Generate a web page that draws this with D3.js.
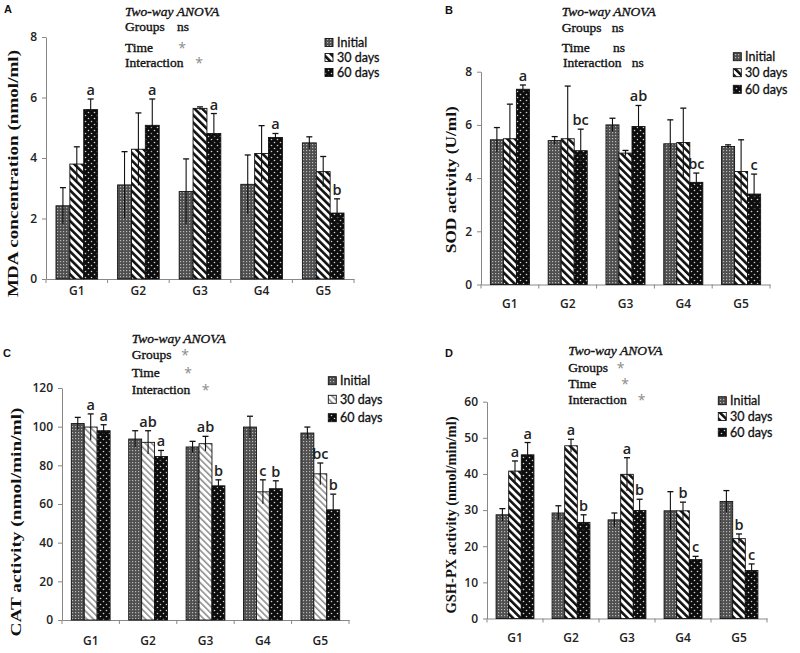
<!DOCTYPE html>
<html><head><meta charset="utf-8">
<script src="https://cdnjs.cloudflare.com/ajax/libs/d3/7.8.5/d3.min.js"></script>
<style>body{margin:0;background:#fff}svg{display:block}</style>
</head><body><svg id="c" width="800" height="653"></svg>
<script>
// ---------- data ----------
const groups = ["G1","G2","G3","G4","G5"];
const seriesNames = ["Initial","30 days","60 days"];

// Panel A: MDA concentration (nmol/ml)
const mdaMean = [[2.42,3.80,5.60],[3.11,4.29,5.08],[2.89,5.64,4.81],[3.13,4.15,4.68],[4.50,3.55,2.18]];
const mdaErr  = [[0.60,0.57,0.35],[1.10,1.20,0.87],[1.08,0.05,0.66],[0.97,0.92,0.13],[0.20,0.50,0.47]];
const mdaLetters = [["","","a"],["","","a"],["","","a"],["","","a"],["","","b"]];
const mdaTicks = [0,2,4,6,8];
const mdaAnova = [["Groups","ns"],["Time","*"],["Interaction","*"]];

// Panel B: SOD activity (U/ml)
const sodMean = [[5.44,5.48,7.34],[5.41,5.48,5.03],[6.00,4.94,5.94],[5.29,5.34,3.84],[5.19,4.25,3.40]];
const sodErr  = [[0.46,1.30,0.16],[0.15,1.98,0.81],[0.25,0.10,0.79],[0.90,1.29,0.35],[0.06,1.19,0.75]];
const sodLetters = [["","","a"],["","","bc"],["","","ab"],["","","bc"],["","","c"]];
const sodTicks = [0,2,4,6,8];
const sodAnova = [["Groups","ns"],["Time","ns"],["Interaction","ns"]];

// Panel C: CAT activity (nmol/min/ml)
const catMean = [[101.6,99.8,97.9],[93.6,91.9,84.6],[89.5,91.2,69.4],[99.8,66.3,67.9],[96.7,75.6,57.0]];
const catErr  = [[3.2,6.8,3.1],[4.3,6.0,3.1],[2.9,3.8,3.1],[5.6,6.2,4.1],[3.1,5.6,8.1]];
const catLetters = [["","a","a"],["","ab","a"],["","ab","b"],["","c","b"],["","bc","b"]];
const catTicks = [0,20,40,60,80,100,120];
const catAnova = [["Groups","*"],["Time","*"],["Interaction","*"]];

// Panel D: GSH-PX activity (nmol/min/ml)
const gshMean = [[28.7,40.8,45.3],[29.2,47.8,26.6],[27.3,39.9,29.9],[29.8,29.8,16.3],[32.4,22.1,13.3]];
const gshErr  = [[1.7,2.8,3.4],[2.0,1.8,2.1],[1.9,4.6,3.1],[5.3,2.4,0.9],[3.0,1.3,1.8]];
const gshLetters = [["","a","a"],["","a","b"],["","a","b"],["","b","c"],["","b","c"]];
const gshTicks = [0,10,20,30,40,50,60];
const gshAnova = [["Groups","*"],["Time","*"],["Interaction","*"]];

// ---------- layout ----------
const panels = [
  {id:"A", mean:mdaMean, err:mdaErr, letters:mdaLetters, ticks:mdaTicks, anova:mdaAnova,
   ylabel:"MDA concentration  (nmol/ml)", x0:46, x1:354, yTop:37, y0:279, labOff:16,
   tag:[4,13], ylab:[12,173.5,247], title:[125,16], rows:[[125,30.7],[125,51.7],[125,67]], marks:[177,182,199],
   leg:{sx:325, tx:337, ys:[42.5,57.5,72.5]}, stripe:"dark"},
  {id:"B", mean:sodMean, err:sodErr, letters:sodLetters, ticks:sodTicks, anova:sodAnova,
   ylabel:"SOD activity (U/ml)", x0:481, x1:770, yTop:71.7, y0:284.5, labOff:24,
   tag:[445,14], ylab:[450,179.7,147], title:[561.7,16], rows:[[561.7,31.7],[561.7,51.7],[563,66.7]], marks:[611.7,613,631.7],
   leg:{sx:733.3, tx:745, ys:[56.7,72.7,89.3]}, stripe:"dark"},
  {id:"C", mean:catMean, err:catErr, letters:catLetters, ticks:catTicks, anova:catAnova,
   ylabel:"CAT activity (nmol/min/ml)", x0:62, x1:349, yTop:388, y0:620, labOff:25,
   tag:[3,357], ylab:[15,522,229], title:[131.7,343.3], rows:[[131.7,359.3],[131.7,377.3],[131.7,394]], marks:[185,188,205.7],
   leg:{sx:328.3, tx:340, ys:[380.7,399.3,417.7]}, stripe:"light"},
  {id:"D", mean:gshMean, err:gshErr, letters:gshLetters, ticks:gshTicks, anova:gshAnova,
   ylabel:"GSH-PX activity (nmol/min/ml)", x0:487, x1:767, yTop:401.7, y0:618.5, labOff:24,
   tag:[445,357], ylab:[450,515,197], title:[568.3,355], rows:[[568.3,371.7],[568.3,387.7],[568.3,404.3]], marks:[620.7,625,641.7],
   leg:{sx:718.3, tx:730, ys:[400.7,416.5,432.3]}, stripe:"dark"}
];

const svg = d3.select("#c");
const defs = svg.append("defs");
const SANS = "'Open Sans', Lato, sans-serif";
const LEG = "Lato, 'Open Sans', sans-serif";
const SERIF = "'Liberation Serif', 'Times New Roman', serif";

// patterns
const pInit = defs.append("pattern").attr("id","pInit").attr("patternUnits","userSpaceOnUse").attr("width",3).attr("height",3);
pInit.append("rect").attr("width",3).attr("height",3).attr("fill","#4f4f4f");
pInit.append("rect").attr("width",1.2).attr("height",1.2).attr("fill","#b8b8b8");

function stripe(id, color, w, gap){
  const p = defs.append("pattern").attr("id",id).attr("patternUnits","userSpaceOnUse")
    .attr("width",gap).attr("height",10).attr("patternTransform","rotate(-45)");
  p.append("rect").attr("width",gap).attr("height",10).attr("fill","#fff");
  p.append("rect").attr("x",0).attr("width",w).attr("height",10).attr("fill",color);
}
stripe("pStripe_dark","#111",2.6,5.4);
stripe("pStripe_light","#8f8f8f",1.6,4.6);

const pDot = defs.append("pattern").attr("id","pDot").attr("patternUnits","userSpaceOnUse").attr("width",6).attr("height",6);
pDot.append("rect").attr("width",6).attr("height",6).attr("fill","#0d0d0d");
pDot.append("circle").attr("cx",1.5).attr("cy",1.5).attr("r",0.8).attr("fill","#d0d0d0");
pDot.append("circle").attr("cx",4.5).attr("cy",4.5).attr("r",0.8).attr("fill","#d0d0d0");

function fills(p){ return ["url(#pInit)", "url(#pStripe_"+p.stripe+")", "url(#pDot)"]; }

panels.forEach(p => {
  const g = svg.append("g");
  const x = d3.scaleBand().domain(groups).range([p.x0,p.x1]).padding(0);
  const xs = d3.scaleBand().domain(seriesNames).range([0,x.bandwidth()]).paddingInner(0).paddingOuter(0.72);
  const y = d3.scaleLinear().domain([p.ticks[0], p.ticks[p.ticks.length-1]]).range([p.y0,p.yTop]);
  const f = fills(p);

  // y axis
  const ya = g.append("g").attr("transform",`translate(${p.x0},0)`)
    .call(d3.axisLeft(y).tickValues(p.ticks).tickSize(4).tickSizeOuter(0).tickPadding(5).tickFormat(d3.format("d")));
  ya.select(".domain").attr("stroke","#888");
  ya.selectAll(".tick line").attr("stroke","#888");
  ya.selectAll(".tick text").attr("font-family",SANS).attr("font-size",12).attr("font-weight",600).attr("fill","#222");

  // x axis
  const xa = g.append("g").attr("transform",`translate(0,${p.y0})`)
    .call(d3.axisBottom(x).tickSize(0).tickSizeOuter(0).tickPadding(p.labOff-9));
  xa.select(".domain").attr("stroke","#888");
  xa.selectAll(".tick text").attr("font-family",SANS).attr("font-size",12).attr("font-weight",600).attr("fill","#222");
  const bounds = groups.map(d => x(d)).concat([p.x1]);
  g.selectAll(".xb").data(bounds).enter().append("line")
    .attr("x1",d=>d).attr("x2",d=>d).attr("y1",p.y0).attr("y2",p.y0+4).attr("stroke","#888");

  // bars
  const rows = [];
  groups.forEach((gr,i) => seriesNames.forEach((s,j) => rows.push({gr, s, j, v:p.mean[i][j], e:p.err[i][j], l:p.letters[i][j]})));
  g.selectAll(".bar").data(rows).enter().append("rect")
    .attr("x",d=>x(d.gr)+xs(d.s)).attr("width",xs.bandwidth())
    .attr("y",d=>y(d.v)).attr("height",d=>p.y0-y(d.v))
    .attr("fill",d=>f[d.j]).attr("stroke","#111").attr("stroke-width",0.9);

  // error bars
  const cx = d => x(d.gr)+xs(d.s)+xs.bandwidth()/2;
  const eb = g.selectAll(".eb").data(rows).enter().append("g");
  eb.append("line").attr("x1",cx).attr("x2",cx)
    .attr("y1",d=>y(d.v-d.e)).attr("y2",d=>y(d.v+d.e)).attr("stroke","#111").attr("stroke-width",1.1);
  eb.append("line").attr("x1",d=>cx(d)-3).attr("x2",d=>cx(d)+3)
    .attr("y1",d=>y(d.v+d.e)).attr("y2",d=>y(d.v+d.e)).attr("stroke","#111").attr("stroke-width",1.3);

  // letters
  g.selectAll(".lt").data(rows.filter(d=>d.l)).enter().append("text")
    .attr("x",cx).attr("y",d=>y(d.v+d.e)-4)
    .attr("text-anchor","middle").attr("font-family",SANS).attr("font-size",14.5).attr("font-weight",600)
    .attr("fill","#222").text(d=>d.l);

  // y label
  g.append("text").attr("transform",`translate(${p.ylab[0]},${p.ylab[1]}) rotate(-90)`)
    .attr("text-anchor","middle").attr("dominant-baseline","central")
    .attr("font-family",SERIF).attr("font-weight","bold").attr("font-size",15.5)
    .attr("textLength",p.ylab[2]).attr("lengthAdjust","spacingAndGlyphs").attr("fill","#111").text(p.ylabel);

  // panel tag
  g.append("text").attr("x",p.tag[0]).attr("y",p.tag[1]).attr("font-family","'Liberation Sans', Arial, sans-serif")
    .attr("font-weight","bold").attr("font-size",11).attr("fill","#111").text(p.id);

  // ANOVA annotation
  const heavy = sel => sel.attr("stroke","#111").attr("stroke-width",0.35);
  heavy(g.append("text").attr("x",p.title[0]).attr("y",p.title[1]).attr("font-family",SERIF).attr("font-style","italic")
    .attr("font-size",13.5).attr("fill","#111").text("Two-way ANOVA"));
  p.anova.forEach((r,k) => {
    heavy(g.append("text").attr("x",p.rows[k][0]).attr("y",p.rows[k][1]).attr("font-family",SERIF)
      .attr("font-size",13.5).attr("fill","#111").text(r[0]));
    if (r[1] === "*") {
      g.append("text").attr("x",p.marks[k]).attr("y",p.rows[k][1]+1).attr("text-anchor","middle")
        .attr("font-family",SANS).attr("font-size",14).attr("fill","#8a8a8a").text("*");
    } else {
      heavy(g.append("text").attr("x",p.marks[k]).attr("y",p.rows[k][1]).attr("font-family",SERIF)
        .attr("font-size",13.5).attr("fill","#111").text(r[1]));
    }
  });

  // legend
  seriesNames.forEach((s,j) => {
    g.append("rect").attr("x",p.leg.sx).attr("y",p.leg.ys[j]-4).attr("width",8).attr("height",8)
      .attr("fill",f[j]).attr("stroke","#111").attr("stroke-width",0.9);
    g.append("text").attr("x",p.leg.tx).attr("y",p.leg.ys[j]).attr("dominant-baseline","central")
      .attr("font-family",LEG).attr("font-size",12.5).attr("fill","#111")
      .attr("stroke","#111").attr("stroke-width",0.3).text(s);
  });
});
</script></body></html>
